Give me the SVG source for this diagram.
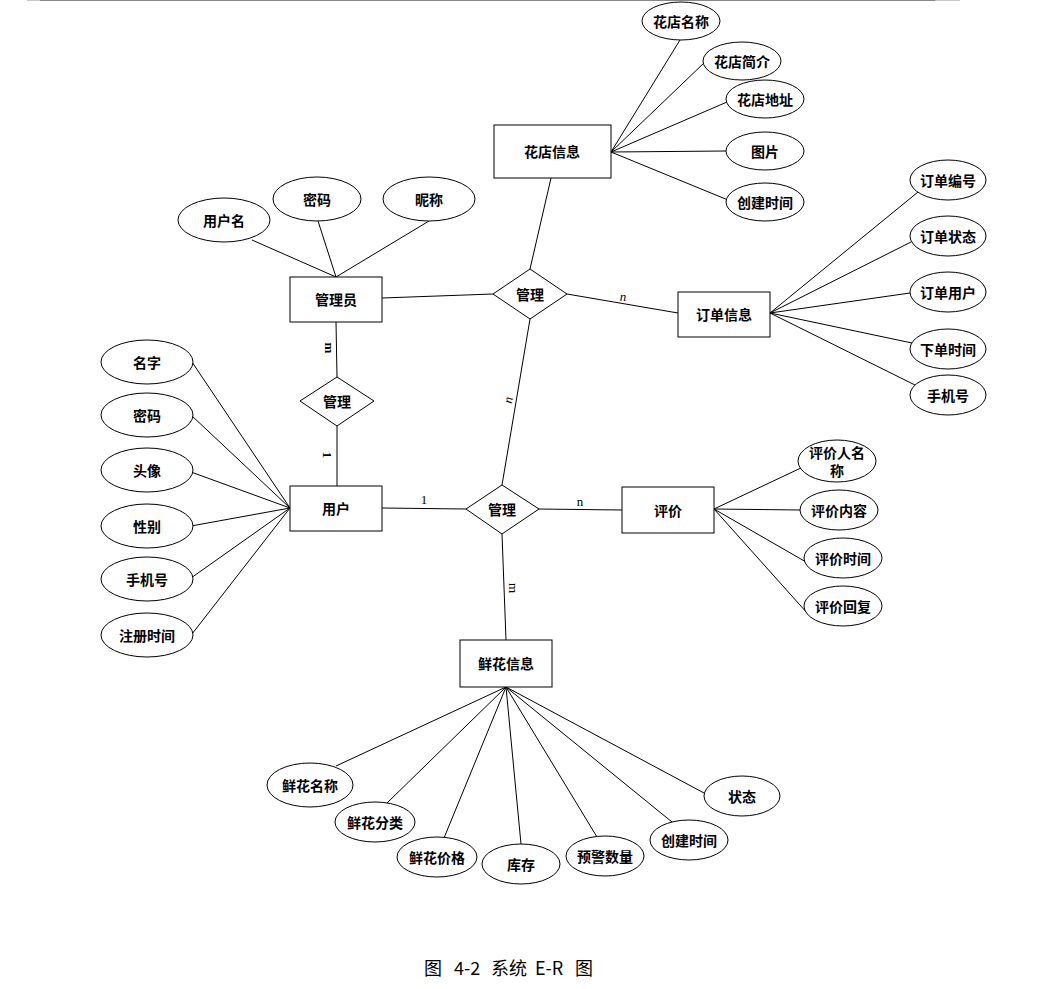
<svg xmlns="http://www.w3.org/2000/svg" width="1038" height="989" viewBox="0 0 1038 989">
<style>
.box{fill:#fff;stroke:#000;stroke-width:1}
.el{fill:#fff;stroke:#000;stroke-width:1}
.dm{fill:#fff;stroke:#000;stroke-width:1}
.ln{stroke:#000;stroke-width:1;fill:none}
.t{font-family:"Noto Sans CJK SC","Noto Sans",sans-serif;font-size:14px;font-weight:bold;text-anchor:middle;dominant-baseline:central;fill:#000}
.c{font-family:"Liberation Serif",serif;font-size:13px;text-anchor:middle;dominant-baseline:central;fill:#000}
.cap{font-family:"Noto Sans CJK SC","Noto Sans",sans-serif;font-size:18px;text-anchor:start;dominant-baseline:central;fill:#000}
</style>
<rect width="1038" height="989" fill="#fff"/>
<line x1="27" y1="0.5" x2="960" y2="0.5" stroke="#c8c8c8" stroke-width="1"/>
<line x1="40" y1="0.5" x2="935" y2="0.5" stroke="#888" stroke-width="1.2"/>
<g id="connectors">
<line class="ln" x1="611" y1="152" x2="680" y2="40"/>
<line class="ln" x1="611" y1="152" x2="705" y2="62"/>
<line class="ln" x1="611" y1="152" x2="727" y2="102"/>
<line class="ln" x1="611" y1="152" x2="726" y2="151"/>
<line class="ln" x1="611" y1="152" x2="728" y2="200"/>
<line class="ln" x1="336" y1="277" x2="252" y2="240"/>
<line class="ln" x1="336" y1="277" x2="318" y2="221"/>
<line class="ln" x1="336" y1="277" x2="429" y2="221"/>
<line class="ln" x1="551" y1="178" x2="530" y2="269"/>
<line class="ln" x1="382" y1="298" x2="493" y2="294"/>
<line class="ln" x1="567" y1="294" x2="678" y2="313"/>
<line class="ln" x1="530" y1="319" x2="502" y2="485"/>
<line class="ln" x1="336" y1="322" x2="337" y2="377"/>
<line class="ln" x1="337" y1="426" x2="337" y2="486"/>
<line class="ln" x1="382" y1="508" x2="466" y2="509"/>
<line class="ln" x1="539" y1="509" x2="622" y2="510"/>
<line class="ln" x1="502" y1="534" x2="506" y2="640"/>
<line class="ln" x1="770" y1="313" x2="918" y2="192"/>
<line class="ln" x1="770" y1="313" x2="911" y2="242"/>
<line class="ln" x1="770" y1="313" x2="910" y2="293"/>
<line class="ln" x1="770" y1="313" x2="912" y2="343"/>
<line class="ln" x1="770" y1="313" x2="915" y2="385"/>
<line class="ln" x1="290" y1="508" x2="192" y2="362"/>
<line class="ln" x1="290" y1="508" x2="191" y2="415"/>
<line class="ln" x1="290" y1="508" x2="191" y2="472"/>
<line class="ln" x1="290" y1="508" x2="191" y2="526"/>
<line class="ln" x1="290" y1="508" x2="191" y2="578"/>
<line class="ln" x1="290" y1="508" x2="192" y2="634"/>
<line class="ln" x1="714" y1="509" x2="803" y2="467"/>
<line class="ln" x1="714" y1="509" x2="800" y2="510"/>
<line class="ln" x1="714" y1="509" x2="806" y2="562"/>
<line class="ln" x1="714" y1="509" x2="808" y2="614"/>
<line class="ln" x1="506" y1="687" x2="336" y2="766"/>
<line class="ln" x1="506" y1="687" x2="387" y2="803"/>
<line class="ln" x1="506" y1="687" x2="444" y2="838"/>
<line class="ln" x1="506" y1="687" x2="521" y2="844"/>
<line class="ln" x1="506" y1="687" x2="597" y2="837"/>
<line class="ln" x1="506" y1="687" x2="672" y2="822"/>
<line class="ln" x1="506" y1="687" x2="704" y2="793"/>
<text class="c" x="623" y="296" font-style="italic">n</text>
<text class="c" x="508" y="400" transform="rotate(-80 508 400)" font-style="italic">n</text>
<text class="c" x="329" y="348" transform="rotate(90 329 348)" font-weight="bold">m</text>
<text class="c" x="327" y="455" transform="rotate(90 327 455)" font-weight="bold">1</text>
<text class="c" x="424" y="499">1</text>
<text class="c" x="580" y="501">n</text>
<text class="c" x="513" y="588" transform="rotate(90 513 588)">m</text>
</g>
<g id="e-huadian"><rect class="box" x="494" y="125" width="117" height="53"/><text class="t" x="552" y="151">花店信息</text></g>
<g id="e-guanliyuan"><rect class="box" x="290" y="277" width="92" height="45"/><text class="t" x="336" y="299">管理员</text></g>
<g id="e-dingdan"><rect class="box" x="678" y="292" width="92" height="45"/><text class="t" x="724" y="314">订单信息</text></g>
<g id="e-yonghu"><rect class="box" x="290" y="486" width="92" height="45"/><text class="t" x="336" y="508">用户</text></g>
<g id="e-pingjia"><rect class="box" x="622" y="487" width="92" height="46"/><text class="t" x="668" y="510">评价</text></g>
<g id="e-xianhua"><rect class="box" x="460" y="640" width="92" height="47"/><text class="t" x="506" y="663">鲜花信息</text></g>
<g id="r-top"><polygon class="dm" points="530,269 567,294 530,319 493,294"/><text class="t" x="530" y="294">管理</text></g>
<g id="r-left"><polygon class="dm" points="337,377 374,401 337,426 300,401"/><text class="t" x="337" y="401">管理</text></g>
<g id="r-mid"><polygon class="dm" points="502,485 539,509 502,534 466,509"/><text class="t" x="502" y="509">管理</text></g>
<g id="a-hd1"><ellipse class="el" cx="681" cy="21" rx="39" ry="19"/><text class="t" x="681" y="21">花店名称</text></g>
<g id="a-hd2"><ellipse class="el" cx="742" cy="61" rx="39" ry="19"/><text class="t" x="742" y="61">花店简介</text></g>
<g id="a-hd3"><ellipse class="el" cx="765" cy="99" rx="39" ry="19"/><text class="t" x="765" y="99">花店地址</text></g>
<g id="a-hd4"><ellipse class="el" cx="765" cy="151" rx="39" ry="19"/><text class="t" x="765" y="151">图片</text></g>
<g id="a-hd5"><ellipse class="el" cx="765" cy="202" rx="39" ry="19"/><text class="t" x="765" y="202">创建时间</text></g>
<g id="a-gl1"><ellipse class="el" cx="224" cy="220" rx="46" ry="22"/><text class="t" x="224" y="220">用户名</text></g>
<g id="a-gl2"><ellipse class="el" cx="317" cy="199" rx="44" ry="22"/><text class="t" x="317" y="199">密码</text></g>
<g id="a-gl3"><ellipse class="el" cx="429" cy="199" rx="46" ry="22"/><text class="t" x="429" y="199">昵称</text></g>
<g id="a-dd1"><ellipse class="el" cx="948" cy="180" rx="38" ry="20"/><text class="t" x="948" y="180">订单编号</text></g>
<g id="a-dd2"><ellipse class="el" cx="948" cy="236" rx="38" ry="20"/><text class="t" x="948" y="236">订单状态</text></g>
<g id="a-dd3"><ellipse class="el" cx="948" cy="292" rx="38" ry="20"/><text class="t" x="948" y="292">订单用户</text></g>
<g id="a-dd4"><ellipse class="el" cx="948" cy="349" rx="38" ry="20"/><text class="t" x="948" y="349">下单时间</text></g>
<g id="a-dd5"><ellipse class="el" cx="948" cy="395" rx="38" ry="20"/><text class="t" x="948" y="395">手机号</text></g>
<g id="a-yh1"><ellipse class="el" cx="147" cy="362" rx="46" ry="22"/><text class="t" x="147" y="362">名字</text></g>
<g id="a-yh2"><ellipse class="el" cx="147" cy="415" rx="46" ry="22"/><text class="t" x="147" y="415">密码</text></g>
<g id="a-yh3"><ellipse class="el" cx="147" cy="470" rx="46" ry="22"/><text class="t" x="147" y="470">头像</text></g>
<g id="a-yh4"><ellipse class="el" cx="147" cy="526" rx="46" ry="22"/><text class="t" x="147" y="526">性别</text></g>
<g id="a-yh5"><ellipse class="el" cx="147" cy="579" rx="46" ry="22"/><text class="t" x="147" y="579">手机号</text></g>
<g id="a-yh6"><ellipse class="el" cx="147" cy="635" rx="46" ry="22"/><text class="t" x="147" y="635">注册时间</text></g>
<g id="a-pj1"><ellipse class="el" cx="837" cy="461" rx="39" ry="21"/><text class="t" x="837" y="452" font-size="13">评价人名</text><text class="t" x="837" y="470" font-size="13">称</text></g>
<g id="a-pj2"><ellipse class="el" cx="839" cy="510" rx="39" ry="20"/><text class="t" x="839" y="510">评价内容</text></g>
<g id="a-pj3"><ellipse class="el" cx="843" cy="558" rx="39" ry="20"/><text class="t" x="843" y="558">评价时间</text></g>
<g id="a-pj4"><ellipse class="el" cx="843" cy="606" rx="39" ry="20"/><text class="t" x="843" y="606">评价回复</text></g>
<g id="a-xh1"><ellipse class="el" cx="310" cy="785" rx="43" ry="22"/><text class="t" x="310" y="785">鲜花名称</text></g>
<g id="a-xh2"><ellipse class="el" cx="375" cy="822" rx="40" ry="20"/><text class="t" x="375" y="822">鲜花分类</text></g>
<g id="a-xh3"><ellipse class="el" cx="437" cy="857" rx="40" ry="20"/><text class="t" x="437" y="857">鲜花价格</text></g>
<g id="a-xh4"><ellipse class="el" cx="521" cy="864" rx="39" ry="20"/><text class="t" x="521" y="864">库存</text></g>
<g id="a-xh5"><ellipse class="el" cx="605" cy="856" rx="39" ry="20"/><text class="t" x="605" y="856">预警数量</text></g>
<g id="a-xh6"><ellipse class="el" cx="689" cy="840" rx="39" ry="20"/><text class="t" x="689" y="840">创建时间</text></g>
<g id="a-xh7"><ellipse class="el" cx="742" cy="796" rx="38" ry="20"/><text class="t" x="742" y="796">状态</text></g>
<g id="caption">
<text class="cap" x="424" y="967">图</text>
<text class="cap" x="454" y="967">4-2</text>
<text class="cap" x="491" y="967">系统</text>
<text class="cap" x="535" y="967">E-R</text>
<text class="cap" x="575" y="967">图</text>
</g>
</svg>
